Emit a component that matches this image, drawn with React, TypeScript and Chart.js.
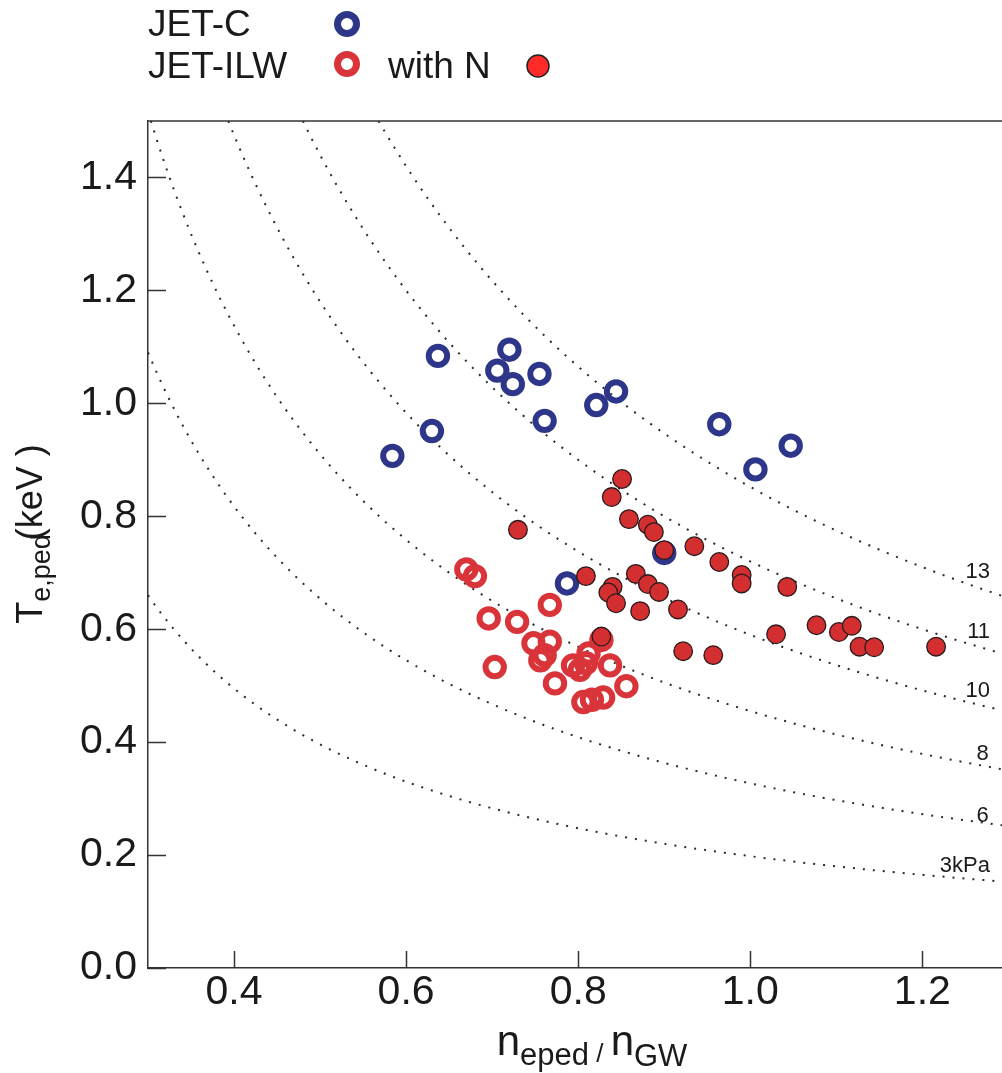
import React, { useEffect, useRef } from 'react';
import { Chart, registerables } from 'chart.js';

Chart.register(...registerables);

// ---- data ----
const jetCX = [0.637, 0.720, 0.706, 0.724, 0.755, 0.844, 0.821, 0.761, 0.630, 0.584, 0.964, 1.047, 1.006, 0.787, 0.900];
const jetCY = [1.084, 1.095, 1.058, 1.034, 1.052, 1.021, 0.997, 0.969, 0.951, 0.907, 0.963, 0.925, 0.883, 0.681, 0.735];

const ilwX = [0.670, 0.680, 0.696, 0.729, 0.767, 0.748, 0.767, 0.761, 0.756, 0.703, 0.794, 0.802, 0.809, 0.812, 0.827, 0.837, 0.773, 0.856, 0.806, 0.816, 0.829];
const ilwY = [0.706, 0.694, 0.619, 0.613, 0.643, 0.575, 0.578, 0.554, 0.545, 0.533, 0.536, 0.528, 0.540, 0.557, 0.581, 0.536, 0.504, 0.499, 0.471, 0.475, 0.479];

const withNX = [0.851, 0.839, 0.859, 0.881, 0.888, 0.730, 0.900, 0.935, 0.964, 0.990, 0.990, 1.043, 0.809, 0.840, 0.835, 0.844, 0.867, 0.881, 0.894, 0.872, 0.916, 0.827, 0.922, 0.957, 1.030, 1.077, 1.103, 1.118, 1.127, 1.144, 1.216];
const withNY = [0.866, 0.834, 0.795, 0.785, 0.772, 0.776, 0.740, 0.747, 0.719, 0.696, 0.681, 0.675, 0.694, 0.675, 0.665, 0.646, 0.698, 0.680, 0.666, 0.632, 0.635, 0.587, 0.561, 0.554, 0.591, 0.607, 0.595, 0.606, 0.569, 0.568, 0.569];

// isobars: T = K / n  (constant pedestal pressure)
const isobarLabels = ['3kPa', '6', '8', '10', '11', '13'];
const isobarK = [0.198, 0.327, 0.455, 0.59, 0.72, 0.852];

const xTicks = [0.4, 0.6, 0.8, 1.0, 1.2];
const yTicks = [0.0, 0.2, 0.4, 0.6, 0.8, 1.0, 1.2, 1.4];
const xMin = 0.3;
const xMax = 1.2926;
const yMin = 0;
const yMax = 1.5;

const legendC = 'JET-C';
const legendILW = 'JET-ILW';
const legendN = 'with N';

// ---- styles ----
const FONT = '"Liberation Sans", Arial, Helvetica, sans-serif';
const BLUE = '#2d3688';
const RED_RING = '#d9343a';
const RED_FILL = '#d42f30';
const LEGEND_FILL = '#ff2a2a';
const AXIS = '#333333';
const TEXT = '#1a1a1a';

function isobarPoints(k: number) {
  const start = Math.max(xMin, k / yMax);
  const n = 120;
  const pts: { x: number; y: number }[] = [];
  for (let i = 0; i <= n; i++) {
    const x = start + ((xMax - start) * i) / n;
    pts.push({ x, y: k / x });
  }
  return pts;
}

const decorPlugin = {
  id: 'decor',
  afterDraw(chart: any) {
    const ctx: CanvasRenderingContext2D = chart.ctx;
    const area = chart.chartArea;
    const xs = chart.scales.x;
    const ys = chart.scales.y;
    ctx.save();

    // top border
    ctx.strokeStyle = AXIS;
    ctx.lineWidth = 1.5;
    ctx.beginPath();
    ctx.moveTo(area.left - 1, area.top);
    ctx.lineTo(chart.width, area.top);
    ctx.stroke();

    // inward ticks
    ctx.lineWidth = 1.5;
    xTicks.forEach((v) => {
      const px = Math.round(xs.getPixelForValue(v)) + 0.5;
      ctx.beginPath();
      ctx.moveTo(px, area.bottom);
      ctx.lineTo(px, area.bottom - 17);
      ctx.stroke();
    });
    yTicks.forEach((v) => {
      const py = Math.round(ys.getPixelForValue(v)) + 0.5;
      ctx.beginPath();
      ctx.moveTo(area.left, py);
      ctx.lineTo(area.left + 18, py);
      ctx.stroke();
    });

    // isobar labels
    ctx.fillStyle = TEXT;
    ctx.font = `22px ${FONT}`;
    ctx.textBaseline = 'middle';
    ctx.textAlign = 'left';
    const labelCx = 982.5;
    const rightLimit = 990;
    const offsets = [13, 7, 12, 13.5, 15, 16];
    isobarLabels.forEach((lab, i) => {
      const w = ctx.measureText(lab).width;
      let left = labelCx - w / 2;
      if (left + w > rightLimit) left = rightLimit - w;
      const cx = left + w / 2;
      const xv = xs.getValueForPixel(cx);
      const py = ys.getPixelForValue(isobarK[i] / xv) - offsets[i];
      ctx.fillText(lab, left, py);
    });

    // legend
    ctx.textBaseline = 'alphabetic';
    ctx.font = `37px ${FONT}`;
    ctx.fillStyle = TEXT;
    ctx.fillText(legendC, 148, 36);
    ctx.fillText(legendILW, 148, 78);
    ctx.fillText(legendN, 388, 78);
    ctx.lineWidth = 7;
    ctx.strokeStyle = BLUE;
    ctx.beginPath();
    ctx.arc(347, 24, 9.5, 0, Math.PI * 2);
    ctx.stroke();
    ctx.strokeStyle = RED_RING;
    ctx.beginPath();
    ctx.arc(347, 64, 9.5, 0, Math.PI * 2);
    ctx.stroke();
    ctx.fillStyle = LEGEND_FILL;
    ctx.strokeStyle = '#222';
    ctx.lineWidth = 1.5;
    ctx.beginPath();
    ctx.arc(538, 66, 11, 0, Math.PI * 2);
    ctx.fill();
    ctx.stroke();

    // x title: n_eped / n_GW
    ctx.fillStyle = TEXT;
    const xsegs = [
      { t: 'n', s: 42, b: 1055 },
      { t: 'eped', s: 31, b: 1065 },
      { t: ' / ', s: 26, b: 1062 },
      { t: 'n', s: 42, b: 1055 },
      { t: 'GW', s: 31, b: 1066 },
    ];
    let total = 0;
    xsegs.forEach((sg) => {
      ctx.font = `${sg.s}px ${FONT}`;
      total += ctx.measureText(sg.t).width;
    });
    let cx = 592 - total / 2;
    xsegs.forEach((sg) => {
      ctx.font = `${sg.s}px ${FONT}`;
      ctx.fillText(sg.t, cx, sg.b);
      cx += ctx.measureText(sg.t).width;
    });

    // y title: T_e,ped(keV )
    const ysegs = [
      { t: 'T', s: 36, b: 42, dx: 0 },
      { t: 'e,ped', s: 27, b: 50, dx: 0 },
      { t: '(keV )', s: 36, b: 42, dx: -6 },
    ];
    let ytotal = 0;
    ysegs.forEach((sg) => {
      ctx.font = `${sg.s}px ${FONT}`;
      ytotal += ctx.measureText(sg.t).width + sg.dx;
    });
    let pos = 534 + ytotal / 2; // start at bottom (page y), text runs upward
    ysegs.forEach((sg) => {
      ctx.font = `${sg.s}px ${FONT}`;
      pos -= sg.dx;
      ctx.save();
      ctx.translate(sg.b, pos);
      ctx.rotate(-Math.PI / 2);
      ctx.fillText(sg.t, 0, 0);
      ctx.restore();
      pos -= ctx.measureText(sg.t).width;
    });

    ctx.restore();
  },
};

export default function App() {
  const ref = useRef<HTMLCanvasElement | null>(null);

  useEffect(() => {
    if (!ref.current) return;
    const isobarSets = isobarK.map((k, i) => ({
      label: isobarLabels[i],
      data: isobarPoints(k),
      showLine: true,
      borderColor: '#2a2a2a',
      borderWidth: 2,
      borderDash: [2, 8],
      pointRadius: 0,
      fill: false,
      tension: 0,
      order: 3,
    }));
    const chart = new Chart(ref.current, {
      type: 'scatter',
      data: {
        datasets: [
          {
            label: 'with N',
            data: withNX.map((x, i) => ({ x, y: withNY[i] })),
            pointRadius: 9.3,
            pointBackgroundColor: RED_FILL,
            pointBorderColor: '#2a1a1a',
            pointBorderWidth: 1.3,
            order: 0,
          },
          {
            label: 'JET-ILW',
            data: ilwX.map((x, i) => ({ x, y: ilwY[i] })),
            pointRadius: 9.2,
            pointBackgroundColor: 'rgba(0,0,0,0)',
            pointBorderColor: RED_RING,
            pointBorderWidth: 6,
            order: 1,
          },
          {
            label: 'JET-C',
            data: jetCX.map((x, i) => ({ x, y: jetCY[i] })),
            pointRadius: 9.2,
            pointBackgroundColor: 'rgba(0,0,0,0)',
            pointBorderColor: BLUE,
            pointBorderWidth: 6,
            order: 2,
          },
          ...isobarSets,
        ] as any,
      },
      options: {
        animation: false,
        responsive: false,
        devicePixelRatio: 1,
        layout: { autoPadding: false, padding: { top: 121, left: 0, right: 0, bottom: 0 } },
        plugins: { legend: { display: false }, tooltip: { enabled: false } },
        scales: {
          x: {
            type: 'linear',
            min: xMin,
            max: xMax,
            afterBuildTicks: (s: any) => {
              s.ticks = xTicks.map((v) => ({ value: v }));
            },
            afterFit: (s: any) => {
              s.height = 105;
              s.paddingLeft = 0;
              s.paddingRight = 0;
            },
            grid: { display: false, drawTicks: false },
            border: { display: true, color: AXIS, width: 1.5 },
            ticks: {
              padding: 0,
              color: TEXT,
              font: { family: FONT, size: 41, lineHeight: 1.2 },
              callback: (v: any) => Number(v).toFixed(1),
            },
          },
          y: {
            type: 'linear',
            min: yMin,
            max: yMax,
            afterBuildTicks: (s: any) => {
              s.ticks = yTicks.map((v) => ({ value: v }));
            },
            afterFit: (s: any) => {
              s.width = 148;
              s.paddingTop = 0;
              s.paddingBottom = 0;
            },
            grid: { display: false, drawTicks: false },
            border: { display: true, color: AXIS, width: 1.5 },
            ticks: {
              padding: 11,
              color: TEXT,
              font: { family: FONT, size: 41, lineHeight: 1.2 },
              callback: (v: any) => Number(v).toFixed(1),
            },
          },
        },
      } as any,
      plugins: [decorPlugin],
    });
    return () => chart.destroy();
  }, []);

  return (
    <div style={{ position: 'fixed', left: 0, top: 0, width: 1002, height: 1073, background: '#fff' }}>
      <canvas ref={ref} width={1002} height={1073} style={{ display: 'block' }} />
    </div>
  );
}
